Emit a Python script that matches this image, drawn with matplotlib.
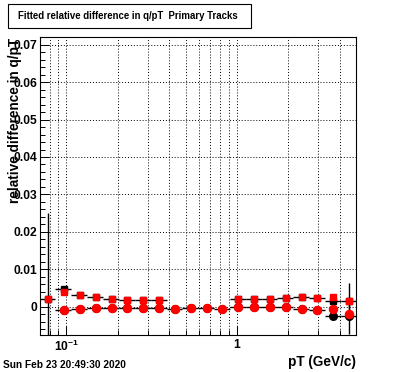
import numpy as np
import matplotlib
matplotlib.use("Agg")
import matplotlib.pyplot as plt
from matplotlib.patches import Rectangle
from matplotlib.ticker import FixedLocator, FixedFormatter

plt.rcParams['font.family'] = ['Liberation Sans', 'DejaVu Sans']
plt.rcParams['font.weight'] = 'bold'
plt.rcParams['mathtext.fontset'] = 'custom'
plt.rcParams['mathtext.bf'] = 'Liberation Sans:bold'
plt.rcParams['mathtext.rm'] = 'Liberation Sans:bold'
plt.rcParams['mathtext.default'] = 'bf'

# pT bin edges (GeV/c), 20 log bins
pt_edges = [0.070, 0.0867, 0.107, 0.133, 0.165, 0.204, 0.252, 0.312, 0.387, 0.479,
            0.593, 0.734, 0.908, 1.125, 1.393, 1.724, 2.135, 2.643, 3.272, 4.051, 5.0]

nan = np.nan
# upper series (squares)
sq_black = [0.0021, 0.0047, 0.0032, 0.0027, 0.0021, 0.0018, 0.0017, 0.0017, nan, nan,
            nan, nan, 0.0020, 0.0021, 0.0021, 0.0024, 0.0025, 0.0023, 0.0014, 0.0016]
sq_red = [0.0021, 0.0039, 0.0032, 0.0027, 0.0021, 0.0018, 0.0017, 0.0017, nan, nan,
          nan, nan, 0.0020, 0.0021, 0.0021, 0.0024, 0.0025, 0.0023, 0.0025, 0.0016]
sq_err = [0.023, 0.0004, 0.0003, 0.0003, 0.0003, 0.0003, 0.0003, 0.0003, nan, nan,
          nan, nan, 0.0003, 0.0003, 0.0003, 0.0003, 0.0004, 0.0005, 0.0008, 0.0048]
# lower series (circles)
ci_black = [nan, -0.0008, -0.0006, -0.0003, -0.0003, -0.0003, -0.0003, -0.0003, -0.0005, -0.0003,
            -0.0004, -0.0005, -0.0001, -0.0001, -0.0001, -0.0002, -0.0005, -0.0008, -0.0024, -0.0024]
ci_red = [nan, -0.0008, -0.0006, -0.0003, -0.0003, -0.0003, -0.0003, -0.0003, -0.0005, -0.0003,
          -0.0004, -0.0005, -0.0001, -0.0001, -0.0001, -0.0002, -0.0005, -0.0008, -0.0007, -0.0020]
ci_err = [nan, 0.0003, 0.0002, 0.0002, 0.0002, 0.0002, 0.0002, 0.0002, 0.0002, 0.0002,
          0.0002, 0.0002, 0.0002, 0.0002, 0.0003, 0.0003, 0.0004, 0.0005, 0.0008, 0.005]

title = "Fitted relative difference in q/pT  Primary Tracks"
date_text = "Sun Feb 23 20:49:30 2020"

edges = np.array(pt_edges)
lo, hi = edges[:-1], edges[1:]
xc = 0.5 * (lo + hi)
xerr = [xc - lo, hi - xc]

fig = plt.figure(figsize=(3.96, 3.72), dpi=100)
ax = fig.add_axes([0.1, 0.1, 0.8, 0.8])
ax.set_xscale('log')
ax.set_xlim(0.07, 5.0)
ax.set_ylim(-0.0075, 0.072)

# grid
xgrid = [0.08, 0.09, 0.1, 0.2, 0.3, 0.4, 0.5, 0.6, 0.7, 0.8, 0.9, 1, 2, 3, 4]
for xv in xgrid:
    ax.axvline(xv, color='black', lw=0.7, ls=(0, (1, 2)), zorder=0)
for yv in np.arange(0, 0.0701, 0.01):
    ax.axhline(yv, color='black', lw=0.7, ls=(0, (1, 2)), zorder=0)

# black series with errors
ax.errorbar(xc, sq_black, xerr=xerr, yerr=sq_err, fmt='s', color='black', ms=5,
            elinewidth=1.0, capsize=0, zorder=2)
ax.errorbar(xc, ci_black, xerr=xerr, yerr=ci_err, fmt='o', color='black', ms=5.5,
            elinewidth=1.0, capsize=0, zorder=2)
# red markers on top
ax.plot(xc, sq_red, 's', color='#ff0000', ms=5, zorder=3)
ax.plot(xc, ci_red, 'o', color='#ff0000', ms=5.8, zorder=3)

# ticks
ax.yaxis.set_major_locator(FixedLocator([0, 0.01, 0.02, 0.03, 0.04, 0.05, 0.06, 0.07]))
ax.yaxis.set_major_formatter(FixedFormatter(['0', '0.01', '0.02', '0.03', '0.04', '0.05', '0.06', '0.07']))
ax.yaxis.set_minor_locator(FixedLocator(np.arange(-0.006, 0.0721, 0.002)))
ax.xaxis.set_major_locator(FixedLocator([0.1, 1]))
ax.xaxis.set_major_formatter(FixedFormatter([r'$10^{-1}$', '1']))
ax.xaxis.set_minor_locator(FixedLocator([0.08, 0.09, 0.2, 0.3, 0.4, 0.5, 0.6, 0.7, 0.8, 0.9, 2, 3, 4, 5]))
ax.xaxis.set_minor_formatter(FixedFormatter([''] * 14))
ax.tick_params(which='both', direction='in', top=False, right=False, width=0.7)
ax.tick_params(axis='y', which='major', length=6.5, pad=1.5, labelsize=8.7)
ax.tick_params(axis='y', which='minor', length=3.3)
ax.tick_params(axis='x', which='major', length=6.5, pad=3, labelsize=8.7)
ax.tick_params(axis='x', which='minor', length=3.3)
for s in ax.spines.values():
    s.set_linewidth(0.8)

# axis titles
fig.text(15 / 396, 1 - 38 / 372, "relative difference in q/pT", rotation=90,
         ha='center', va='top', fontsize=9.8, fontweight='bold')
fig.text(356 / 396, 1 - 362 / 372, "pT (GeV/c)", ha='right', va='center',
         fontsize=9.8, fontweight='bold')

# title box
fig.patches.append(Rectangle((8 / 396, 1 - 28 / 372), 243 / 396, 24 / 372,
                             transform=fig.transFigure, facecolor='white',
                             edgecolor='black', lw=0.8))
fig.text(18 / 396, 1 - 16 / 372, title, ha='left', va='center', fontsize=6.9,
         fontweight='bold')

fig.text(3 / 396, 1 - 365 / 372, date_text, ha='left', va='center', fontsize=7.3,
         fontweight='bold')

fig.savefig("out.png", dpi=100)
